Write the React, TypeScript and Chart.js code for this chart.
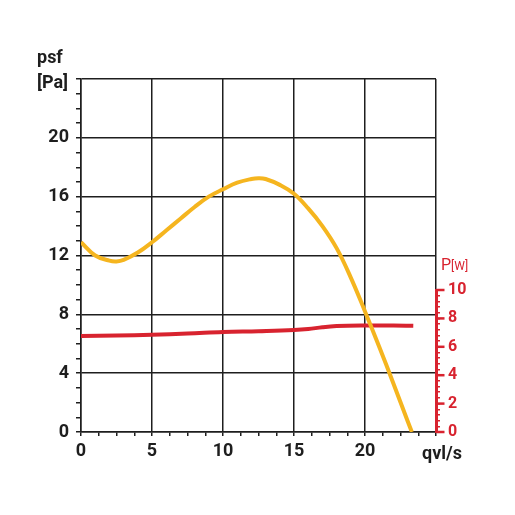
import React, { useEffect, useRef } from 'react';
import { Chart, registerables } from 'chart.js';

Chart.register(...registerables);

// Air flow qvl [l/s] and static pressure psf [Pa]
const psfFlow = [0, 1, 2, 2.5, 3, 4, 5, 6, 7, 8, 9, 10, 11, 12, 12.5, 13, 14, 15, 16, 17, 18, 19, 20, 21, 22, 23, 23.3];
const psfValues = [12.9, 12.0, 11.65, 11.6, 11.7, 12.2, 12.9, 13.7, 14.5, 15.3, 16.0, 16.5, 16.95, 17.2, 17.25, 17.2, 16.8, 16.2, 15.2, 14.0, 12.5, 10.5, 8.2, 5.8, 3.3, 0.75, 0];

// Power P [W]
const powerFlow = [0, 2.5, 5, 7.5, 10, 12.5, 15, 16, 17, 18, 20, 22, 23.4];
const powerValues = [6.76, 6.8, 6.85, 6.93, 7.04, 7.1, 7.18, 7.25, 7.38, 7.46, 7.5, 7.5, 7.48];

const flowTicks = [0, 5, 10, 15, 20];
const psfTicks = [0, 4, 8, 12, 16, 20];
const powerTicks = [0, 2, 4, 6, 8, 10];

const BLACK = '#1e1e1e';
const RED = '#d8232f';
const YELLOW = '#f5b51f';
const FONT = 'Roboto, "Liberation Sans", sans-serif';

const labelsPlugin = {
  id: 'labels',
  afterDraw(chart: any) {
    const { ctx, chartArea } = chart;
    const y1 = chart.scales.y1;
    const ax = chartArea.right + 0.5;
    ctx.save();
    // red power axis line + longer major ticks
    ctx.strokeStyle = RED;
    ctx.lineWidth = 3;
    ctx.beginPath();
    ctx.moveTo(ax, y1.getPixelForValue(0) + 1);
    ctx.lineTo(ax, y1.getPixelForValue(10) - 1);
    ctx.stroke();
    ctx.lineWidth = 2.5;
    powerTicks.forEach((v) => {
      const py = y1.getPixelForValue(v);
      ctx.beginPath();
      ctx.moveTo(ax, py);
      ctx.lineTo(ax + 8, py);
      ctx.stroke();
    });

    ctx.textBaseline = 'alphabetic';
    ctx.textAlign = 'left';
    ctx.fillStyle = BLACK;
    ctx.font = `bold 18px ${FONT}`;
    ctx.fillText('psf', 37, 63);
    ctx.fillText('[Pa]', 37, 88);
    ctx.fillText('qvl/s', 422, 459);

    ctx.fillStyle = RED;
    ctx.font = `16px ${FONT}`;
    ctx.fillText('P', 441, 270);
    ctx.font = `12px ${FONT}`;
    ctx.fillText('[W]', 451, 270);
    ctx.restore();
  },
};

export default function App() {
  const chartRef = useRef<HTMLCanvasElement>(null);
  const chartInstance = useRef<Chart | null>(null);

  useEffect(() => {
    if (!chartRef.current) return;
    if (chartInstance.current) chartInstance.current.destroy();
    const ctx = chartRef.current.getContext('2d');
    if (!ctx) return;

    chartInstance.current = new Chart(ctx, {
      type: 'line',
      data: {
        datasets: [
          {
            label: 'psf',
            data: psfFlow.map((x, i) => ({ x, y: psfValues[i] })),
            borderColor: YELLOW,
            borderWidth: 4,
            pointRadius: 0,
            tension: 0.4,
            yAxisID: 'y',
          },
          {
            label: 'P',
            data: powerFlow.map((x, i) => ({ x, y: powerValues[i] })),
            borderColor: RED,
            borderWidth: 4,
            pointRadius: 0,
            tension: 0.4,
            yAxisID: 'y1',
          },
        ],
      },
      options: {
        animation: false,
        responsive: true,
        maintainAspectRatio: false,
        layout: { padding: { top: 79, left: 0, right: 0, bottom: 0 } },
        plugins: {
          legend: { display: false },
          tooltip: { enabled: false },
          title: { display: false },
        },
        scales: {
          x: {
            type: 'linear',
            min: 0,
            max: 25,
            afterBuildTicks: (scale: any) => {
              const t = [];
              for (let i = 0; i <= 20; i++) t.push({ value: i * 1.25 });
              scale.ticks = t;
            },
            afterFit: (scale: any) => {
              scale.height = 83;
            },
            ticks: {
              autoSkip: false,
              maxRotation: 0,
              padding: 5,
              color: BLACK,
              font: { family: FONT, size: 18, weight: 'bold' },
              callback: (v: any) => (flowTicks.includes(v) ? String(v) : ''),
            },
            grid: {
              color: (c: any) => (c.tick && c.tick.value % 5 === 0 ? BLACK : 'transparent'),
              tickColor: BLACK,
              lineWidth: 1.5,
              tickLength: 4,
            },
            border: { display: true, color: BLACK, width: 1.5 },
          },
          y: {
            type: 'linear',
            position: 'left',
            min: 0,
            max: 24,
            afterBuildTicks: (scale: any) => {
              const t = [];
              for (let i = 0; i <= 24; i++) t.push({ value: i });
              scale.ticks = t;
            },
            afterFit: (scale: any) => {
              scale.width = 81;
            },
            ticks: {
              autoSkip: false,
              padding: 7,
              color: BLACK,
              font: { family: FONT, size: 18, weight: 'bold' },
              callback: (v: any) => (psfTicks.includes(v) ? String(v) : ''),
            },
            grid: {
              color: (c: any) => (c.tick && c.tick.value % 4 === 0 ? BLACK : 'transparent'),
              tickColor: BLACK,
              lineWidth: 1.5,
              tickLength: 5,
            },
            border: { display: true, color: BLACK, width: 1.5 },
          },
          y1: {
            type: 'linear',
            position: 'right',
            min: 0,
            max: 24.86,
            afterBuildTicks: (scale: any) => {
              const t = [];
              for (let i = 0; i <= 25; i++) t.push({ value: Math.round(i * 4) / 10 });
              scale.ticks = t;
            },
            afterFit: (scale: any) => {
              scale.width = 79;
            },
            ticks: {
              autoSkip: false,
              padding: 8,
              color: RED,
              font: { family: FONT, size: 16, weight: 'bold' },
              callback: (v: any) => (powerTicks.includes(v) ? String(v) : ''),
            },
            grid: {
              drawOnChartArea: false,
              color: RED,
              tickColor: RED,
              lineWidth: 1.5,
              tickLength: 4,
            },
            border: { display: false },
          },
        },
      },
      plugins: [labelsPlugin],
    });

    return () => {
      if (chartInstance.current) {
        chartInstance.current.destroy();
        chartInstance.current = null;
      }
    };
  }, []);

  return (
    <div style={{ position: 'fixed', left: 0, top: 0, width: '515px', height: '515px', background: '#fff' }}>
      <canvas ref={chartRef}></canvas>
    </div>
  );
}
